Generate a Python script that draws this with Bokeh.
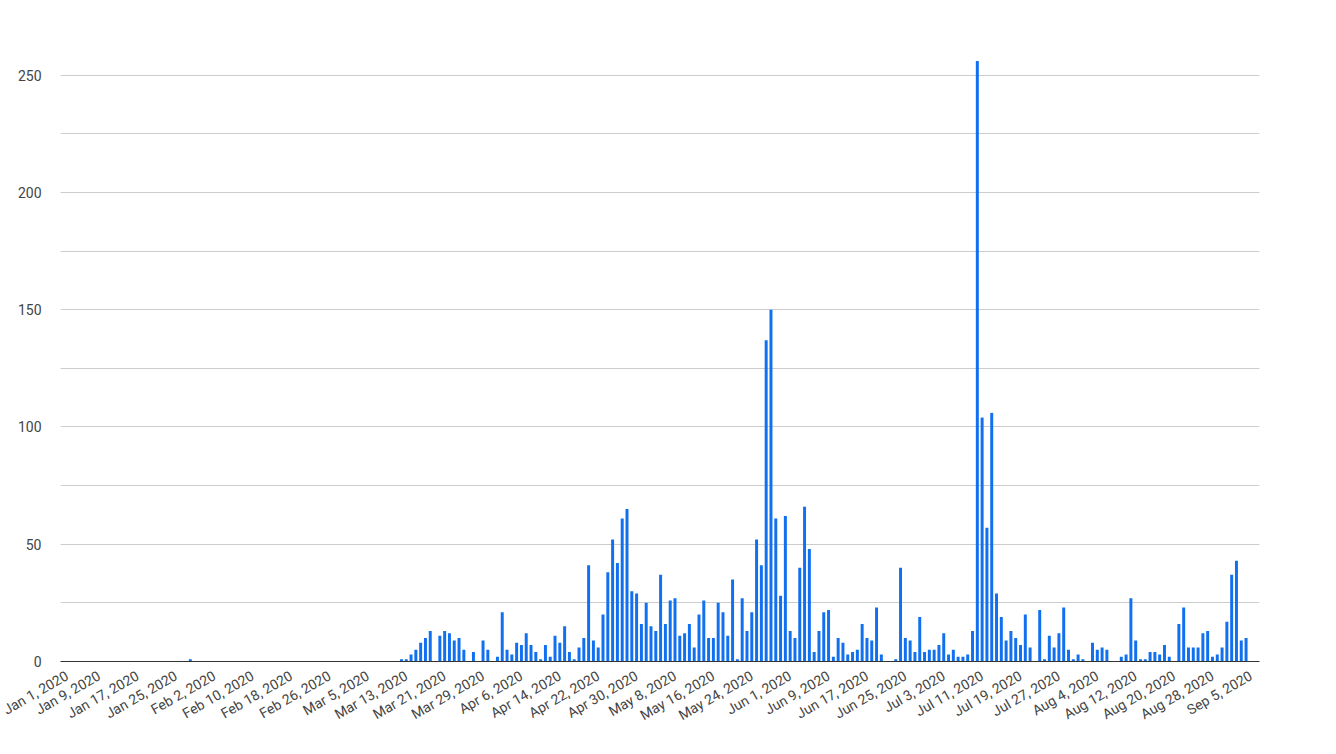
import math
import pandas as pd
from bokeh.plotting import figure
from bokeh.models import Range1d, FixedTicker, ColumnDataSource
from bokeh.embed import file_html
from bokeh.resources import INLINE

# Daily counts per month (index 0 = day 1 of month)
jan = [0, 0, 0, 0, 0, 0, 0, 0, 0, 0, 0, 0, 0, 0, 0, 0, 0, 0, 0, 0, 0, 0, 0, 0, 0, 0, 0, 1, 0, 0, 0]
feb = [0, 0, 0, 0, 0, 0, 0, 0, 0, 0, 0, 0, 0, 0, 0, 0, 0, 0, 0, 0, 0, 0, 0, 0, 0, 0, 0, 0, 0]
mar = [0, 0, 0, 0, 0, 0, 0, 0, 0, 0, 0, 1, 1, 3, 5, 8, 10, 13, 0, 11, 13, 12, 9, 10, 5, 0, 4, 0, 9, 5, 0]
apr = [2, 21, 5, 3, 8, 7, 12, 7, 4, 1, 7, 2, 11, 8, 15, 4, 1, 6, 10, 41, 9, 6, 20, 38, 52, 42, 61, 65, 30, 29]
may = [16, 25, 15, 13, 37, 16, 26, 27, 11, 12, 16, 6, 20, 26, 10, 10, 25, 21, 11, 35, 1, 27, 13, 21, 52, 41, 137, 150, 61, 28, 62]
jun = [13, 10, 40, 66, 48, 4, 13, 21, 22, 2, 10, 8, 3, 4, 5, 16, 10, 9, 23, 3, 0, 0, 1, 40, 10, 9, 4, 19, 4, 5]
jul = [5, 7, 12, 3, 5, 2, 2, 3, 13, 256, 104, 57, 106, 29, 19, 9, 13, 10, 7, 20, 6, 0, 22, 1, 11, 6, 12, 23, 5, 1, 3]
aug = [1, 0, 8, 5, 6, 5, 0, 0, 2, 3, 27, 9, 1, 1, 4, 4, 3, 7, 2, 0, 16, 23, 6, 6, 6, 12, 13, 2, 3, 6, 17]
sep = [37, 43, 9, 10]

months = [("2020-01", jan), ("2020-02", feb), ("2020-03", mar), ("2020-04", apr),
          ("2020-05", may), ("2020-06", jun), ("2020-07", jul), ("2020-08", aug),
          ("2020-09", sep)]

tick_labels = ["Jan 1, 2020", "Jan 9, 2020", "Jan 17, 2020", "Jan 25, 2020",
               "Feb 2, 2020", "Feb 10, 2020", "Feb 18, 2020", "Feb 26, 2020",
               "Mar 5, 2020", "Mar 13, 2020", "Mar 21, 2020", "Mar 29, 2020",
               "Apr 6, 2020", "Apr 14, 2020", "Apr 22, 2020", "Apr 30, 2020",
               "May 8, 2020", "May 16, 2020", "May 24, 2020", "Jun 1, 2020",
               "Jun 9, 2020", "Jun 17, 2020", "Jun 25, 2020", "Jul 3, 2020",
               "Jul 11, 2020", "Jul 19, 2020", "Jul 27, 2020", "Aug 4, 2020",
               "Aug 12, 2020", "Aug 20, 2020", "Aug 28, 2020", "Sep 5, 2020"]

y_ticks = [0, 50, 100, 150, 200, 250]
y_minor = [25, 75, 125, 175, 225, 275]

origin = pd.Timestamp("2020-01-01")
xs, vals = [], []
for ym, arr in months:
    for i, v in enumerate(arr):
        if v > 0:
            d = pd.Timestamp(f"{ym}-{i + 1:02d}")
            xs.append((d - origin).days)
            vals.append(v)

tick_pos = [(pd.to_datetime(t, format="%b %d, %Y") - origin).days for t in tick_labels]

FONT = "Roboto"
TXT = "#444444"

p = figure(width=1320, height=734, output_backend="svg", toolbar_location=None,
           x_range=Range1d(-0.05, 249.8), y_range=Range1d(0, 275),
           min_border_left=60, min_border_right=61, min_border_top=16, min_border_bottom=73)
p.outline_line_color = None
p.background_fill_color = "white"

src = ColumnDataSource(dict(x=xs, top=vals))
p.vbar(x="x", top="top", bottom=0, width=0.62, source=src,
       fill_color="#1170ef", line_color=None)

# y axis
yt = FixedTicker(ticks=y_ticks, minor_ticks=y_minor)
p.yaxis.ticker = yt
p.ygrid.ticker = yt
p.ygrid.grid_line_color = "#cccccc"
p.ygrid.minor_grid_line_color = "#cccccc"
p.yaxis.axis_line_color = None
p.yaxis.major_tick_line_color = None
p.yaxis.minor_tick_line_color = None
p.yaxis.major_tick_out = 0
p.yaxis.major_label_standoff = 15
p.yaxis.major_label_text_font = FONT
p.yaxis.major_label_text_font_size = "14px"
p.yaxis.major_label_text_color = TXT

# x axis
p.xaxis.ticker = FixedTicker(ticks=tick_pos)
p.xaxis.major_label_overrides = {pos: lab for pos, lab in zip(tick_pos, tick_labels)}
p.xgrid.grid_line_color = None
p.xaxis.axis_line_color = "#333333"
p.xaxis.major_tick_line_color = None
p.xaxis.minor_tick_line_color = None
p.xaxis.major_tick_out = 0
p.xaxis.major_label_standoff = 13
p.xaxis.major_label_orientation = math.pi / 6
p.xaxis.major_label_text_font = FONT
p.xaxis.major_label_text_font_size = "14px"
p.xaxis.major_label_text_color = TXT

open("out.html", "w").write(file_html(p, INLINE))
